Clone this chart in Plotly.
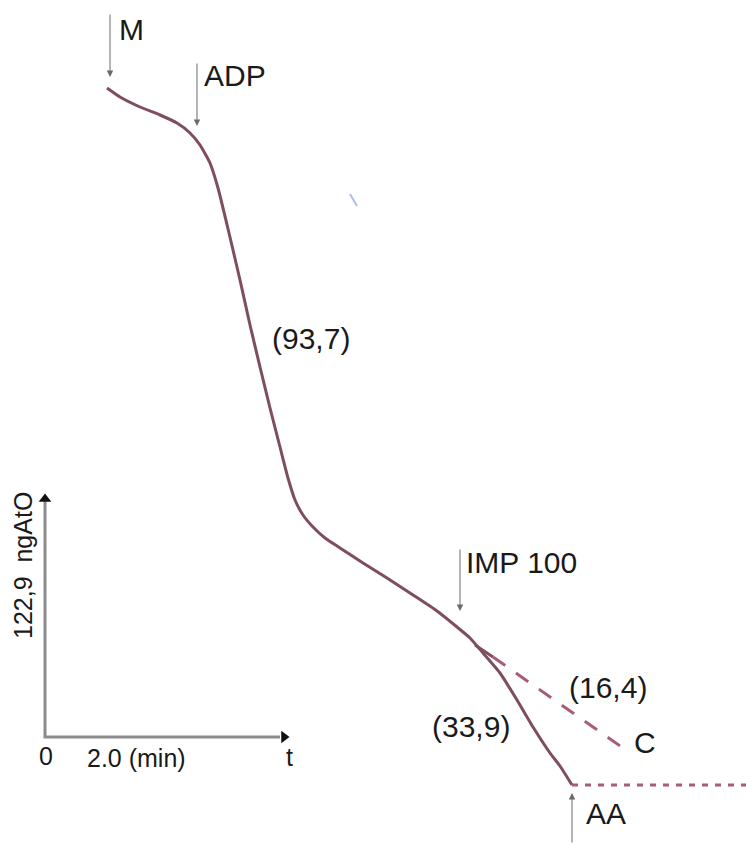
import plotly.graph_objects as go

# Oxygen-electrode recording, drawn in the recorder's chart units
# (x grows to the right with time, y grows downward as O2 is consumed).
trace_t = [107, 120, 140, 160, 177, 190, 200, 210, 218, 229, 240, 250, 260, 270,
           280, 288, 295, 303, 313, 325, 340, 363, 387, 413, 437, 457, 470, 483,
           500, 517, 533, 550, 560, 572]
trace_o2 = [88, 97, 107, 115, 123, 133, 145, 163, 188, 233, 280, 325, 367, 408,
            447, 478, 500, 515, 527, 538, 548, 563, 578, 595, 611, 627, 638, 653,
            673, 700, 727, 753, 766, 785]

# Control rate (C), extrapolated from the state before IMP 100
control_t = [475, 493, 623]
control_o2 = [645, 657, 748]

# Flat recording after AA
aa_t = [572, 746]
aa_o2 = [785, 785]

# Rate labels (ngAtO/min)
rate_labels = ["(93,7)", "(16,4)", "(33,9)"]
# Additions
additions = ["M", "ADP", "IMP 100", "AA"]

TRACE_COLOR = "#7e4e60"
DASH_COLOR = "#a85c78"
ARROW_COLOR = "#6a6a6a"
FONT = "Liberation Sans, Arial, sans-serif"

fig = go.Figure()

fig.add_trace(go.Scatter(x=trace_t, y=trace_o2, mode="lines",
                         line=dict(color=TRACE_COLOR, width=3, shape="spline", smoothing=0.5),
                         hoverinfo="skip"))
fig.add_trace(go.Scatter(x=control_t[:2], y=control_o2[:2], mode="lines",
                         line=dict(color=TRACE_COLOR, width=3), hoverinfo="skip"))
fig.add_trace(go.Scatter(x=control_t[1:], y=control_o2[1:], mode="lines",
                         line=dict(color=DASH_COLOR, width=3, dash="15px,13px"),
                         hoverinfo="skip"))
fig.add_trace(go.Scatter(x=aa_t, y=aa_o2, mode="lines",
                         line=dict(color=DASH_COLOR, width=3, dash="6px,7px"),
                         hoverinfo="skip"))
# small stray ink mark
fig.add_trace(go.Scatter(x=[350, 357], y=[194, 206], mode="lines",
                         line=dict(color="#8aa4e6", width=2), opacity=0.7,
                         hoverinfo="skip"))

# Scale axes (122,9 ngAtO and time)
fig.add_trace(go.Scatter(x=[45, 45, 280], y=[497, 737, 737], mode="lines",
                         line=dict(color="#8c8c8c", width=3), hoverinfo="skip"))
fig.add_trace(go.Scatter(x=[45], y=[499], mode="markers",
                         marker=dict(symbol="triangle-up", size=11, color="#111"),
                         hoverinfo="skip"))
fig.add_trace(go.Scatter(x=[284], y=[737], mode="markers",
                         marker=dict(symbol="triangle-right", size=11, color="#111"),
                         hoverinfo="skip"))

annotations = []

def add_arrow(x, y_tail, y_head):
    annotations.append(dict(x=x, y=y_head, ax=x, ay=y_tail, xref="x", yref="y",
                            axref="x", ayref="y", text="", showarrow=True,
                            arrowhead=2, arrowsize=1.3, arrowwidth=1,
                            arrowcolor=ARROW_COLOR, standoff=0))

def add_text(text, x, y, size=30, angle=0):
    annotations.append(dict(x=x, y=y, xref="x", yref="y", text=text, showarrow=False,
                            textangle=angle, xanchor="center", yanchor="middle",
                            font=dict(family=FONT, size=size, color="#1a1a1a")))

add_arrow(110, 13, 77)
add_arrow(197, 62, 126)
add_arrow(460, 548, 611)
add_arrow(572, 844, 793)

add_text(additions[0], 131, 29)
add_text(additions[1], 235, 75)
add_text(additions[2], 521, 562)
add_text(additions[3], 606, 813)

add_text(rate_labels[0], 311, 338)
add_text(rate_labels[1], 608, 687)
add_text(rate_labels[2], 471, 726)
add_text("C", 645, 742)

add_text("0", 46, 756, size=25)
add_text("2.0 (min)", 136, 758, size=25)
add_text("t", 289, 757, size=25)
add_text("122,9  ngAtO", 23, 566, size=25, angle=-90)

fig.update_layout(
    width=746, height=844,
    margin=dict(l=0, r=0, t=0, b=0),
    paper_bgcolor="white", plot_bgcolor="white",
    showlegend=False,
    xaxis=dict(range=[0, 746], visible=False, fixedrange=True),
    yaxis=dict(range=[844, 0], visible=False, fixedrange=True),
    annotations=annotations,
)

fig.write_html("out.html")
